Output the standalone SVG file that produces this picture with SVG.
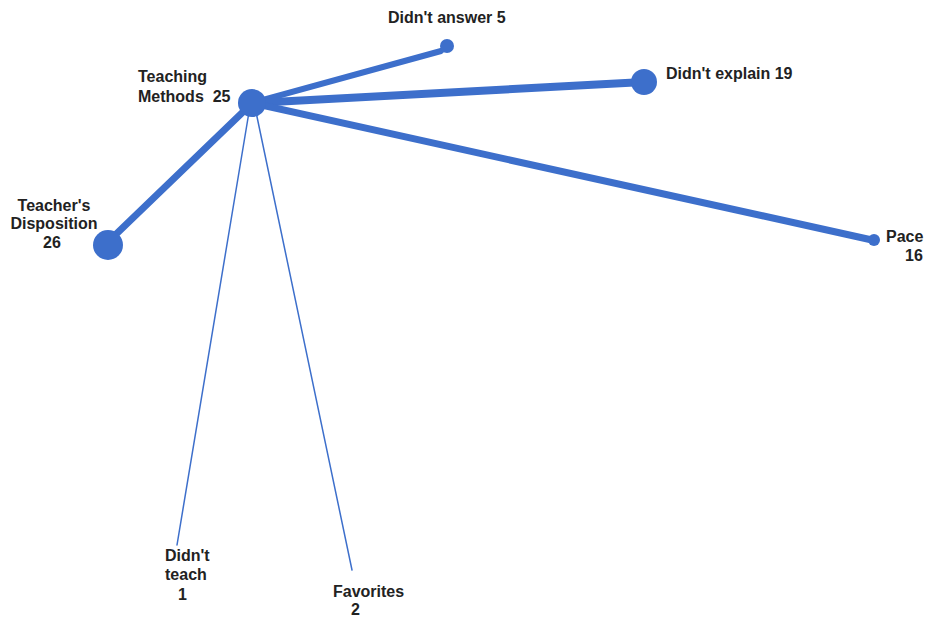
<svg xmlns="http://www.w3.org/2000/svg" width="929" height="618" viewBox="0 0 929 618">
<style>
.t{font-family:"Liberation Sans",Arial,sans-serif;font-weight:bold;font-size:16px;fill:#222;white-space:pre}
.n{fill:#3d6fcb}
.e{stroke:#3d6fcb;stroke-linecap:round;fill:none}
</style>
<rect width="929" height="618" fill="#fff"/>
<g id="connectors">
<line class="e" x1="252" y1="103" x2="441" y2="51" stroke-width="6"/>
<line class="e" x1="252" y1="103" x2="644" y2="82" stroke-width="8"/>
<line class="e" x1="252" y1="103" x2="872" y2="240" stroke-width="7"/>
<line class="e" x1="245" y1="110" x2="110" y2="240" stroke-width="7"/>
<line class="e" x1="249" y1="112" x2="177" y2="545" stroke-width="1.5"/>
<line class="e" x1="256" y1="112" x2="352" y2="570" stroke-width="1.5"/>
</g>
<g id="teaching-methods">
<circle class="n" cx="252" cy="103" r="14"/>
<text class="t" x="138" y="82">Teaching</text>
<text class="t" x="138" y="102">Methods  25</text>
</g>
<g id="teachers-disposition">
<circle class="n" cx="108" cy="245" r="15"/>
<text class="t" x="54" y="211" text-anchor="middle">Teacher's</text>
<text class="t" x="54" y="229" text-anchor="middle">Disposition</text>
<text class="t" x="52" y="248" text-anchor="middle">26</text>
</g>
<g id="didnt-answer">
<circle class="n" cx="447" cy="46" r="7"/>
<text class="t" x="388" y="23">Didn't answer 5</text>
</g>
<g id="didnt-explain">
<circle class="n" cx="644" cy="82" r="13"/>
<text class="t" x="666" y="79">Didn't explain 19</text>
</g>
<g id="pace">
<circle class="n" cx="874" cy="240" r="6"/>
<text class="t" x="886" y="242">Pace</text>
<text class="t" x="905" y="261">16</text>
</g>
<g id="didnt-teach">
<text class="t" x="165" y="561">Didn't</text>
<text class="t" x="165" y="580">teach</text>
<text class="t" x="178" y="600">1</text>
</g>
<g id="favorites">
<text class="t" x="333" y="597">Favorites</text>
<text class="t" x="351" y="615">2</text>
</g>
</svg>
